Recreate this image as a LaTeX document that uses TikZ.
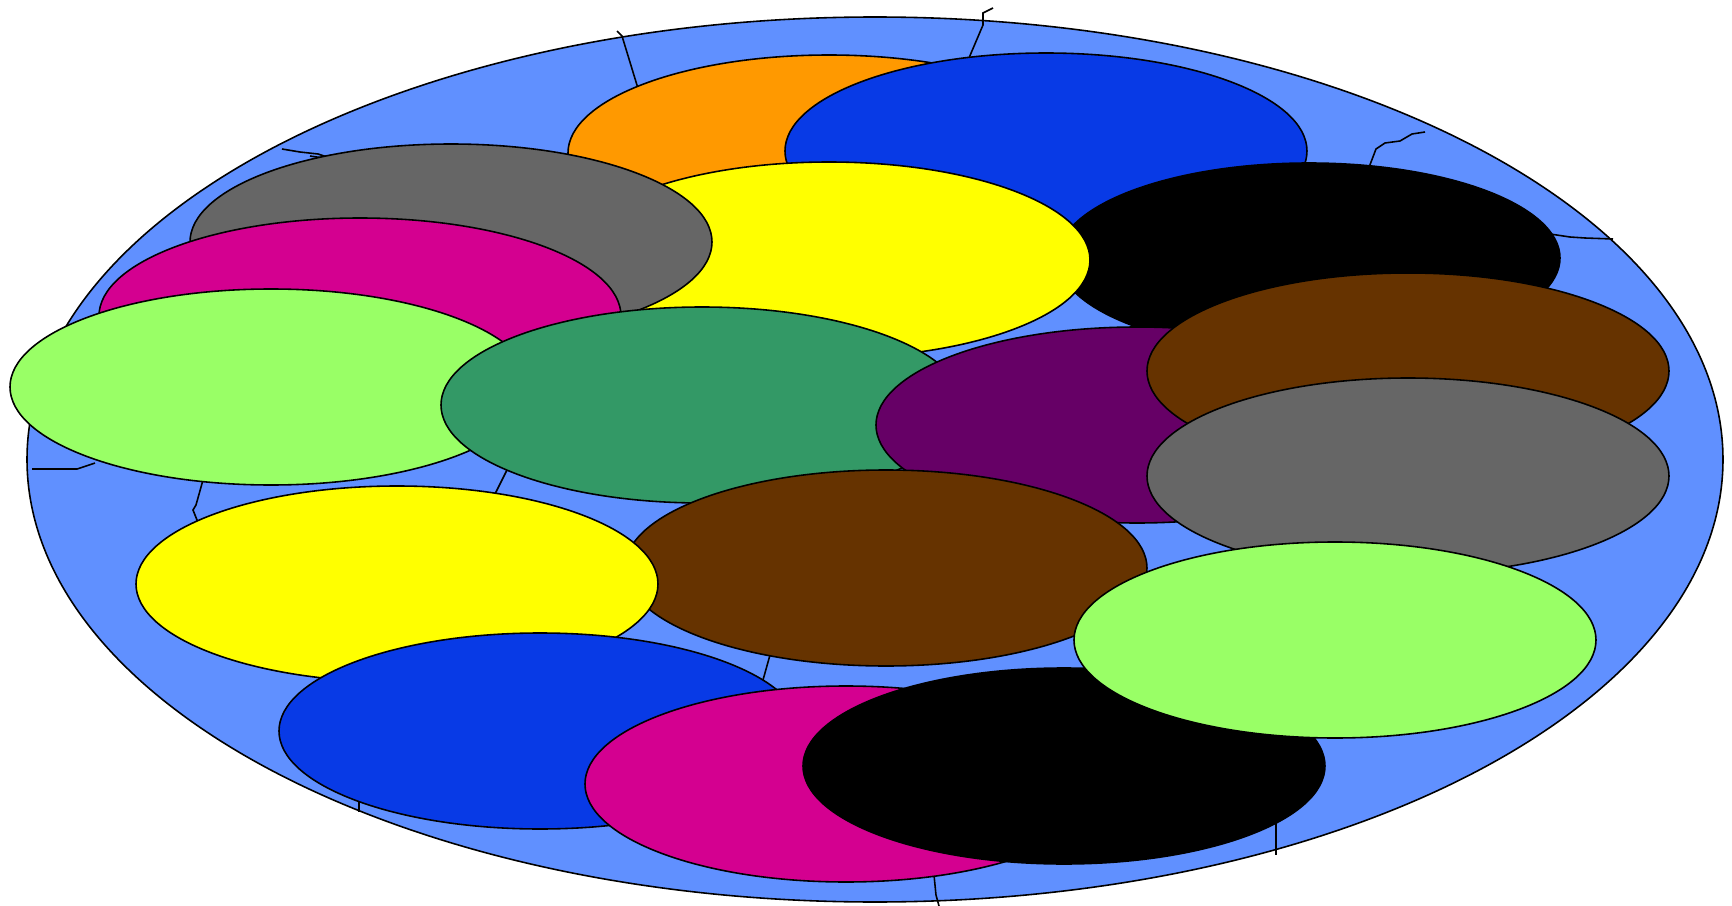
\documentclass[tikz,border=0pt]{standalone}
\usepackage{tikz}

\definecolor{plate}{RGB}{96,144,255}
\definecolor{peOrange}{RGB}{255,153,0}
\definecolor{peBlue}{RGB}{8,58,230}
\definecolor{peGray}{RGB}{102,102,102}
\definecolor{peMagenta}{RGB}{212,0,144}
\definecolor{peYellow}{RGB}{255,255,0}
\definecolor{peLime}{RGB}{153,255,102}
\definecolor{peGreen}{RGB}{51,153,102}
\definecolor{pePurple}{RGB}{102,0,102}
\definecolor{peBrown}{RGB}{102,51,0}

\begin{document}
\begin{tikzpicture}[x=0.01cm, y=-0.01cm,
  plateshape/.style={draw=black, line width=0.45pt, fill=plate},
  pebble/.style={draw=black, line width=0.45pt, x radius=261, y radius=98},
  crack/.style={draw=black, line width=0.45pt},
]
\useasboundingbox (0,0) rectangle (1732,906);

%% PLATE
\draw[plateshape] (875,459.5) ellipse [x radius=848, y radius=442.5];

%% CRACKS
\draw[crack] (617,31) -- (622,36) -- (640,95);
\draw[crack] (993,8) -- (983,13) -- (983,25) -- (966,65);
\draw[crack] (1368,170) -- (1376,149) -- (1385,143) -- (1400,141) -- (1412,134) -- (1425,132);
\draw[crack] (1550,234) -- (1570,237) -- (1585,238) -- (1613,239);
\draw[crack] (282,149) -- (300,152) -- (318,154) -- (330,158);
\draw[crack] (310,156) -- (330,159);
\draw[crack] (32,469) -- (77,469) -- (95,463);
\draw[crack] (203,480) -- (196,505) -- (193,510) -- (199,525);
\draw[crack] (507,470) -- (493,498);
\draw[crack] (770,655) -- (763,680);
\draw[crack] (359,800) -- (359,812);
\draw[crack] (934,875) -- (936,895) -- (939,906);
\draw[crack] (1276,820) -- (1276,855);

%% TOP ROW
\draw[pebble, fill=peOrange]  (829,153) ellipse [];
\draw[pebble, fill=peBlue]    (1046,151) ellipse [];
\draw[pebble, fill=black]     (1309,258) ellipse [x radius=251, y radius=95];
\draw[pebble, fill=peYellow]  (829,260) ellipse [];
\draw[pebble, fill=peGray]    (451,242) ellipse [];
\draw[pebble, fill=peMagenta] (360,316) ellipse [];

%% MIDDLE ROW
\draw[pebble, fill=peLime]    (271,387) ellipse [];
\draw[pebble, fill=peGreen]   (702,405) ellipse [];
\draw[pebble, fill=pePurple]  (1137,425) ellipse [];
\draw[pebble, fill=peBrown]   (1408,371) ellipse [];
\draw[pebble, fill=peGray]    (1408,476) ellipse [];
\draw[pebble, fill=peBrown]   (886,568) ellipse [];

%% BOTTOM ROW
\draw[pebble, fill=peYellow]  (397,584) ellipse [];
\draw[pebble, fill=peBlue]    (540,731) ellipse [];
\draw[pebble, fill=peMagenta] (846,784) ellipse [];
\draw[pebble, fill=black]     (1064,766) ellipse [];
\draw[pebble, fill=peLime]    (1335,640) ellipse [];
\end{tikzpicture}
\end{document}
